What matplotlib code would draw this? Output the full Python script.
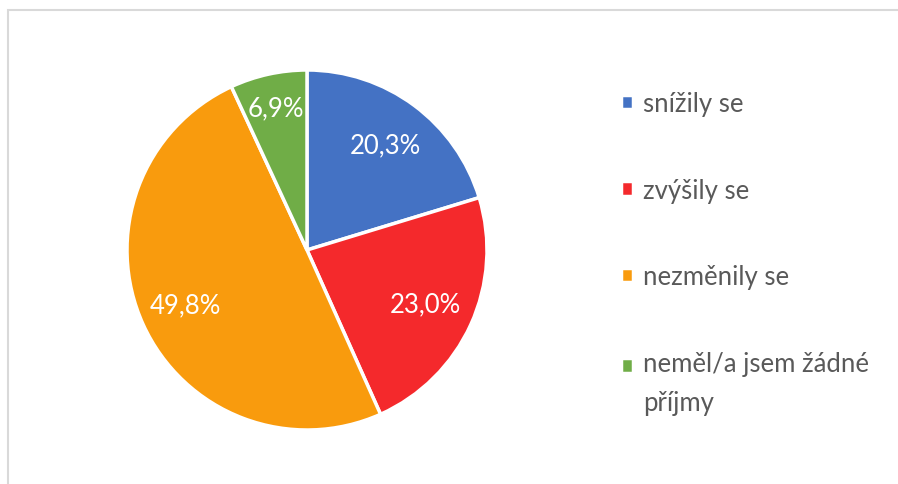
import matplotlib
matplotlib.use("Agg")
import matplotlib.pyplot as plt
from matplotlib.patches import Rectangle
from matplotlib.legend_handler import HandlerPatch
import numpy as np

categories = ["snížily se", "zvýšily se", "nezměnily se", "neměl/a jsem žádné\npříjmy"]
values = [20.3, 23.0, 49.8, 6.9]
labels = ["20,3%", "23,0%", "49,8%", "6,9%"]
colors = ["#4472C4", "#F4292C", "#F99B0D", "#70AD47"]

plt.rcParams['font.family'] = ['Lato', 'DejaVu Sans']

fig = plt.figure(figsize=(8.98, 4.85), dpi=100)
fig.patch.set_facecolor("white")

# chart area border
fig.patches.append(Rectangle((8/898, -0.1), 1.2, 1 - 11/485 + 0.1, transform=fig.transFigure,
                             fill=False, edgecolor="#D9D9D9", linewidth=1.5))

ax = fig.add_axes([127/898, 54/485, 360/898, 360/485])
wedges, _ = ax.pie(values, colors=colors, startangle=90, counterclock=False,
                   radius=1.0, wedgeprops=dict(edgecolor="white", linewidth=2.5))
dists = [0.73, 0.72, 0.74, 0.81]
for w, lab, d in zip(wedges, labels, dists):
    ang = np.deg2rad((w.theta1 + w.theta2) / 2)
    ax.text(d * np.cos(ang), d * np.sin(ang), lab, color="white", fontsize=18.5,
            ha="center", va="center")
ax.set_xlim(-1, 1)
ax.set_ylim(-1, 1)
ax.set_aspect("equal")
ax.axis("off")

FS = 18.5
LINESP = 1.7


def square(legend, orig_handle, xdescent, ydescent, width, height, fontsize):
    return Rectangle((-xdescent, -ydescent), width, height)


def square_top(legend, orig_handle, xdescent, ydescent, width, height, fontsize):
    # align marker with first line of a two-line label
    shift = 0.5 * 37 * 72 / 100
    return Rectangle((-xdescent, -ydescent + shift), width, height)


hmap = {w: HandlerPatch(patch_func=square) for w in wedges[:3]}
hmap[wedges[3]] = HandlerPatch(patch_func=square_top)

leg = fig.legend(wedges, categories, loc="upper left", bbox_to_anchor=(621/898, 1 - 92/485),
                 frameon=False, fontsize=FS, handlelength=0.48, handleheight=0.48,
                 handletextpad=0.38, labelspacing=2.4, borderaxespad=0, borderpad=0,
                 handler_map=hmap)
for t in leg.get_texts():
    t.set_color("#595959")
    t.set_linespacing(LINESP)

fig.savefig("out.png", dpi=100)
